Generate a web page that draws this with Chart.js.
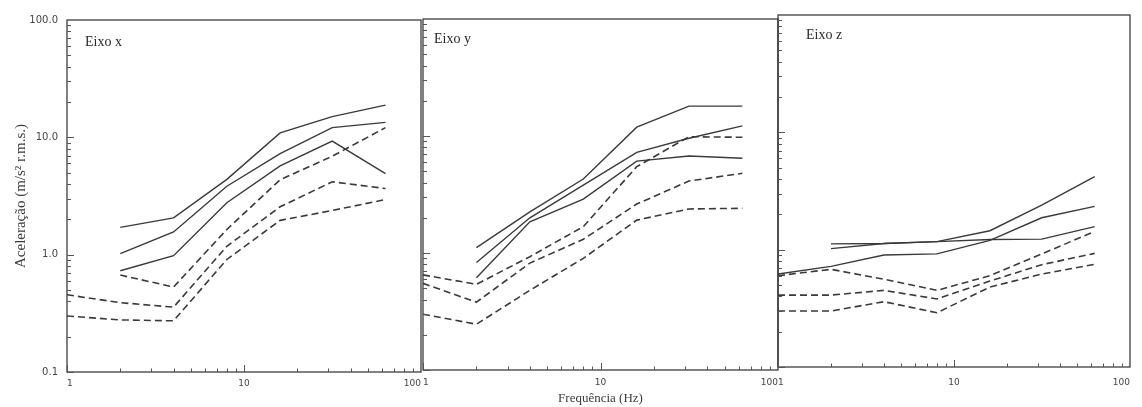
<!DOCTYPE html>
<html>
<head>
<meta charset="utf-8">
<script src="https://cdn.jsdelivr.net/npm/chart.js@4/dist/chart.umd.min.js"></script>
<style>
  html, body { margin: 0; padding: 0; background: #ffffff; }
  #wrap { position: relative; width: 1142px; height: 407px; overflow: hidden; background: #fff; }
  canvas { position: absolute; top: 0; }
</style>
</head>
<body>
<div id="wrap">
  <canvas id="c1" style="left:0px"></canvas>
  <canvas id="c2" style="left:400px"></canvas>
  <canvas id="c3" style="left:760px"></canvas>
</div>
<script>
// ---- data ----
const freqs = [1, 2, 4, 8, 16, 31.5, 63];           // Hz
const xTickValues = [1, 10, 100];
const xTickLabels = ['1', '10', '100'];
const yTickValues = [0.1, 1, 10, 100];
const yTickLabels = ['0.1', '1.0', '10.0', '100.0'];
const panelTitles = ['Eixo x', 'Eixo y', 'Eixo z'];
const xAxisTitle = 'Frequência (Hz)';
const yAxisTitle = 'Aceleração (m/s² r.m.s.)';

// Eixo x
const x_solid1 = [null, 1.71, 2.06, 4.38, 10.9, 15.0, 18.8];
const x_solid2 = [null, 1.02, 1.56, 3.83, 7.26, 12.1, 13.4];
const x_solid3 = [null, 0.73, 0.98, 2.77, 5.7, 9.3, 4.9];
const x_dash1  = [null, 0.67, 0.53, 1.64, 4.35, 6.9, 12.1];
const x_dash2  = [0.455, 0.39, 0.357, 1.18, 2.56, 4.18, 3.66];
const x_dash3  = [0.30, 0.278, 0.273, 0.91, 1.96, 2.38, 2.95];

// Eixo y
const y_solid1 = [null, 1.11, 2.25, 4.29, 11.9, 18.0, 18.0];
const y_solid2 = [null, 0.83, 2.0, 3.81, 7.25, 9.56, 12.2];
const y_solid3 = [null, 0.615, 1.85, 2.89, 6.1, 6.75, 6.45];
const y_dash1  = [0.65, 0.54, 0.93, 1.68, 5.47, 9.86, 9.75];
const y_dash2  = [0.55, 0.38, 0.82, 1.31, 2.62, 4.12, 4.8];
const y_dash3  = [0.30, 0.246, 0.48, 0.90, 1.91, 2.38, 2.41];

// Eixo z
const z_solid1 = [0.62, 0.72, 0.90, 0.92, 1.20, 1.87, 2.34];
const z_solid2 = [null, 1.12, 1.13, 1.17, 1.45, 2.40, 4.19];
const z_solid3 = [null, 1.02, 1.13, 1.17, 1.22, 1.23, 1.57];
const z_dash1  = [0.60, 0.68, 0.56, 0.45, 0.60, 0.92, 1.43];
const z_dash2  = [0.41, 0.41, 0.45, 0.38, 0.54, 0.745, 0.93];
const z_dash3  = [0.30, 0.30, 0.36, 0.29, 0.48, 0.62, 0.75];

// ---- helpers ----
const INK = '#3a3a3a';
const TEXT = '#3c3c3c';

function pts(vals) {
  return freqs.map((f, i) => ({ x: f, y: vals[i] })).filter(p => p.y !== null);
}
function ds(vals, dashed) {
  return {
    data: pts(vals),
    showLine: true,
    borderColor: INK,
    borderWidth: dashed ? 1.6 : 1.4,
    borderDash: dashed ? [7, 4] : [],
    pointRadius: 0,
    tension: 0,
    fill: false
  };
}

const framePlugin = {
  id: 'frame',
  afterDatasetsDraw(chart, args, opts) {
    const { ctx, chartArea: a, scales } = chart;
    const xs = scales.x, ys = scales.y;
    ctx.save();
    ctx.strokeStyle = '#2e2e2e';
    ctx.lineWidth = 1.2;
    ctx.strokeRect(a.left, a.top, a.right - a.left, a.bottom - a.top);
    ctx.lineWidth = 1;
    ctx.strokeStyle = '#555';
    ctx.beginPath();
    // inward x ticks on bottom axis
    for (let d = 1; d < 100; d *= 10) {
      for (let m = 1; m <= 9; m++) {
        const v = d * m;
        const px = Math.round(xs.getPixelForValue(v)) + 0.5;
        const len = m === 1 ? 7 : 3.5;
        ctx.moveTo(px, a.bottom);
        ctx.lineTo(px, a.bottom - len);
      }
    }
    // inward y ticks on left axis
    for (let d = 0.1; d < 99; d *= 10) {
      for (let m = 1; m <= 9; m++) {
        const v = d * m;
        const py = Math.round(ys.getPixelForValue(v)) + 0.5;
        const len = m === 1 ? 7 : 4;
        ctx.moveTo(a.left, py);
        ctx.lineTo(a.left + len, py);
      }
    }
    ctx.stroke();
    // panel label
    ctx.fillStyle = '#2a2a2a';
    ctx.font = '14px "Liberation Serif", "DejaVu Serif", serif';
    ctx.textBaseline = 'middle';
    ctx.textAlign = 'left';
    ctx.fillText(opts.text, a.left + opts.dx, a.top + opts.dy);
    ctx.restore();
  }
};

function makeChart(id, width, height, datasets, cfg) {
  const canvas = document.getElementById(id);
  canvas.width = width; canvas.height = height;
  canvas.style.width = width + 'px'; canvas.style.height = height + 'px';
  return new Chart(canvas, {
    type: 'scatter',
    data: { datasets },
    plugins: [framePlugin],
    options: {
      responsive: false,
      animation: false,
      devicePixelRatio: 1,
      layout: { padding: cfg.padding },
      plugins: {
        legend: { display: false },
        tooltip: { enabled: false },
        frame: { text: cfg.title, dx: cfg.tdx, dy: cfg.tdy }
      },
      scales: {
        x: {
          type: 'logarithmic',
          min: 1, max: 100,
          grid: { display: false, drawTicks: false },
          border: { display: false },
          afterBuildTicks: s => { s.ticks = xTickValues.map(v => ({ value: v })); },
          afterFit: s => { s.height = cfg.xh; },
          ticks: {
            autoSkip: false,
            maxRotation: 0,
            align: 'inner',
            padding: cfg.tickPad,
            color: '#444',
            font: { family: '"DejaVu Sans", sans-serif', size: 9 },
            callback: (v, i) => xTickLabels[i]
          },
          title: cfg.xTitle ? {
            display: true,
            text: xAxisTitle,
            color: TEXT,
            padding: { top: 0, bottom: 1 },
            font: { family: '"Liberation Serif", serif', size: 13 }
          } : { display: false }
        },
        y: {
          type: 'logarithmic',
          min: 0.1, max: 100,
          display: cfg.yShow,
          grid: { display: false, drawTicks: false },
          border: { display: false },
          afterBuildTicks: s => { s.ticks = yTickValues.map(v => ({ value: v })); },
          afterFit: s => { s.width = cfg.yw; },
          ticks: {
            autoSkip: false,
            padding: 9,
            color: '#444',
            font: { family: '"DejaVu Sans", sans-serif', size: 10 },
            callback: (v, i) => yTickLabels[i]
          },
          title: {
            display: cfg.yShow,
            text: yAxisTitle,
            color: TEXT,
            padding: { top: 12, bottom: 0 },
            font: { family: '"Liberation Serif", serif', size: 15 }
          }
        }
      }
    }
  });
}

makeChart('c1', 432, 407, [
  ds(x_solid1, false), ds(x_solid2, false), ds(x_solid3, false),
  ds(x_dash1, true), ds(x_dash2, true), ds(x_dash3, true)
], { padding: { top: 20, right: 11, left: 0, bottom: 0 }, xh: 35, yw: 67, yShow: true,
     xTitle: false, tickPad: 6, title: panelTitles[0], tdx: 18, tdy: 22 });

makeChart('c2', 392, 407, [
  ds(y_solid1, false), ds(y_solid2, false), ds(y_solid3, false),
  ds(y_dash1, true), ds(y_dash2, true), ds(y_dash3, true)
], { padding: { top: 19, right: 14, left: 23, bottom: 0 }, xh: 37, yw: 0, yShow: false,
     xTitle: true, tickPad: 7, title: panelTitles[1], tdx: 11, tdy: 20 });

makeChart('c3', 382, 407, [
  ds(z_solid1, false), ds(z_solid2, false), ds(z_solid3, false),
  ds(z_dash1, true), ds(z_dash2, true), ds(z_dash3, true)
], { padding: { top: 15, right: 12, left: 18, bottom: 0 }, xh: 40, yw: 0, yShow: false,
     xTitle: false, tickPad: 10, title: panelTitles[2], tdx: 28, tdy: 20 });
</script>
</body>
</html>
